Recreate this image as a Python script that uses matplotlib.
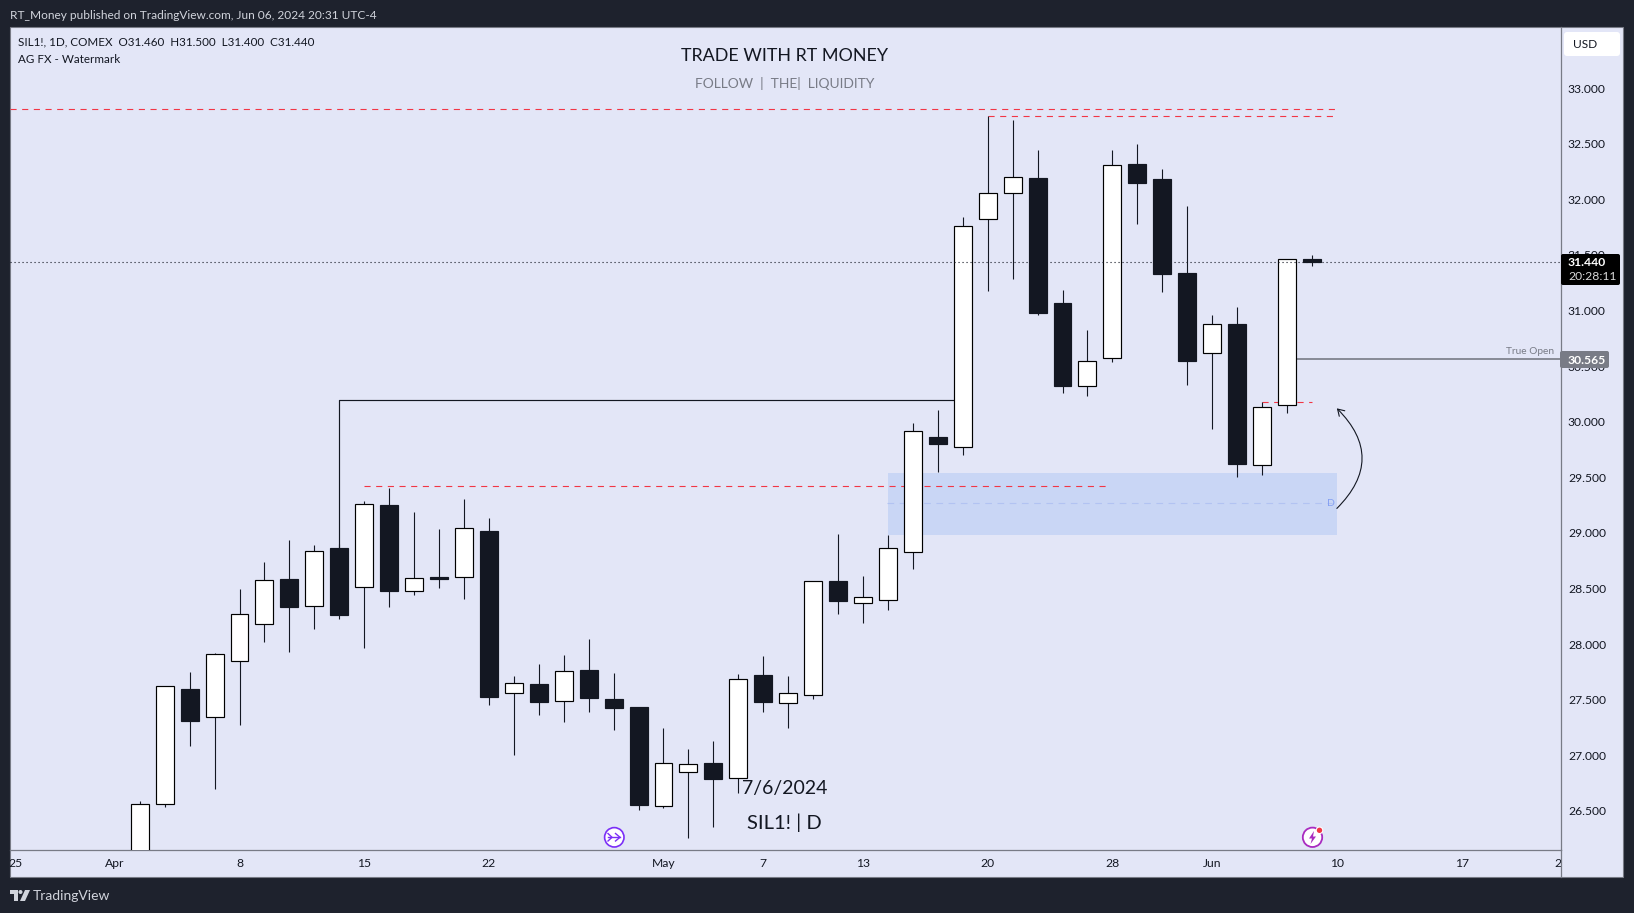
import numpy as np
import matplotlib
matplotlib.use("Agg")
from matplotlib import pyplot as plt
from matplotlib.patches import Rectangle, Circle, Polygon, FancyBboxPatch

W, H = 1634, 913

# Daily bars, Apr 2 -> Jun 7 2024 (Apr 1 = bar 0, first one is cut by the chart bottom)
opens = [25.80, 26.56, 27.60, 27.34, 27.85, 28.18, 28.585, 28.34, 28.864, 28.51, 29.25, 28.474,
         28.605, 28.60, 29.017, 27.557, 27.641, 27.485, 27.767, 27.506, 27.434, 26.541, 26.853,
         26.931, 26.793, 27.722, 27.473, 27.545, 28.567, 28.373, 28.40, 28.831, 29.862, 29.77,
         31.82, 32.054, 32.192, 31.068, 30.318, 30.57, 32.318, 32.183, 31.337, 30.615, 30.879,
         29.614, 30.147, 31.46]
highs = [26.589, 27.62, 27.749, 27.923, 28.495, 28.738, 28.936, 28.891, 28.90, 29.287, 29.404,
         29.188, 29.035, 29.305, 29.134, 27.713, 27.821, 27.902, 28.046, 27.74, 27.434, 27.245,
         27.054, 27.128, 27.731, 27.893, 27.713, 28.564, 28.99, 28.612, 28.981, 29.988, 30.105,
         31.841, 32.749, 32.713, 32.443, 31.184, 30.825, 32.443, 32.497, 32.273, 31.94, 30.96,
         31.032, 30.174, 31.46, 31.50]
lows = [25.70, 26.538, 27.083, 26.697, 27.272, 28.019, 27.929, 28.136, 28.229, 27.965, 28.337,
        28.441, 28.504, 28.405, 27.452, 27.003, 27.362, 27.299, 27.389, 27.227, 26.508, 26.526,
        26.256, 26.355, 26.664, 27.389, 27.245, 27.506, 28.271, 28.19, 28.307, 28.675, 29.548,
        29.701, 31.175, 31.283, 30.96, 30.258, 30.231, 30.537, 31.778, 31.166, 30.33, 29.934,
        29.503, 29.521, 30.078, 31.40]
closes = [26.559, 27.62, 27.311, 27.908, 28.268, 28.573, 28.337, 28.834, 28.265, 29.257, 28.48,
          28.591, 28.585, 29.041, 27.527, 27.647, 27.482, 27.755, 27.515, 27.425, 26.556, 26.928,
          26.919, 26.787, 27.683, 27.479, 27.557, 28.564, 28.387, 28.421, 28.861, 29.913, 29.799,
          31.757, 32.054, 32.198, 30.981, 30.321, 30.543, 32.306, 32.147, 31.331, 30.549, 30.876,
          29.62, 30.129, 31.46, 31.44]

time_ticks = [-4, 0, 5, 10, 15, 22, 26, 30, 35, 40, 44, 49, 54, 58]
time_labels = ["25", "Apr", "8", "15", "22", "May", "7", "13", "20", "28", "Jun", "10", "17", "24"]
price_ticks = [26.5, 27.0, 27.5, 28.0, 28.5, 29.0, 29.5, 30.0, 30.5, 31.0, 31.5, 32.0, 32.5, 33.0]

last_price = 31.44
true_open = 30.565
zone_top, zone_mid, zone_bottom = 29.54, 29.266, 28.98
liq_high_1, liq_high_2, liq_mid, liq_low = 32.812, 32.746, 29.419, 30.174
break_level = 30.192

DARK = "#1e222d"
PANEL = "#e3e6f7"
INK = "#131722"
GREY = "#787b86"
RED = "#f23645"

plt.rcParams["font.family"] = ["Lato", "DejaVu Sans"]


def ax_rect(left, top, right, bottom):
	return [left / W, 1 - bottom / H, (right - left) / W, (bottom - top) / H]


fig = plt.figure(figsize=(W / 100, H / 100), dpi=100, facecolor=DARK)

# Back layer: light panel and its frame.
back = fig.add_axes([0, 0, 1, 1], zorder=0)
back.set_xlim(0, W)
back.set_ylim(H, 0)
back.axis("off")
back.add_patch(Rectangle((10, 27), 1613, 850, facecolor=PANEL, edgecolor=GREY, linewidth=0.8))

# Main chart, in bar number / price.
ax = fig.add_axes(ax_rect(10, 27, 1561, 850), zorder=1)
ax.patch.set_visible(False)
x_left = (10 - 114.8) / 24.94
x_right = (1561 - 114.8) / 24.94
ax.set_xlim(x_left, x_right)
ax.set_ylim(31 - (850 - 310.5) / 111.2, 31 + (310.5 - 27) / 111.2)
for side in ["top", "left"]:
	ax.spines[side].set_visible(False)
for side in ["right", "bottom"]:
	ax.spines[side].set_color(GREY)
	ax.spines[side].set_linewidth(0.9)
ax.yaxis.tick_right()
ax.set_yticks(price_ticks)
ax.set_yticklabels(["%.3f" % p for p in price_ticks], fontsize=8.7, color=INK)
ax.tick_params(axis="y", length=0, pad=5)
ax.set_xticks([])

bars = np.arange(1, len(opens) + 1)
o = np.array(opens)
c = np.array(closes)
up = c > o

# Blue zone first, everything else sits on it.
ax.add_patch(Rectangle((31, zone_bottom), 18, zone_top - zone_bottom, facecolor="#c9d6f5",
                       edgecolor="none", zorder=1))
ax.plot([30.95, 48.8], [zone_mid, zone_mid], color="#b2c3f2", lw=0.8, dashes=(6, 5), zorder=1.5)
ax.text(48.75, zone_mid, "D", color="#85a0f2", fontsize=7.5, ha="center", va="center", zorder=1.5)

red_dash = dict(color=RED, lw=0.8, dashes=(5.5, 5), zorder=2)
ax.plot([x_left, 48.95], [liq_high_1, liq_high_1], **red_dash)
ax.plot([35, 48.95], [liq_high_2, liq_high_2], **red_dash)
ax.plot([10, 39.75], [liq_mid, liq_mid], **red_dash)
ax.plot([46, 48], [liq_low, liq_low], **red_dash)

# Break of structure line from Apr 12 to May 17
ax.plot([9, 9, 34], [o[8], break_level, break_level], color=INK, lw=0.85, zorder=2.5)

ax.vlines(bars, lows, highs, color=INK, lw=0.8, zorder=3)
body_bottom = np.minimum(o, c)
body_height = np.abs(c - o)
ax.bar(bars[up], body_height[up], bottom=body_bottom[up], width=0.72, facecolor="white",
       edgecolor="black", linewidth=0.85, zorder=4)
ax.bar(bars[~up], body_height[~up], bottom=body_bottom[~up], width=0.72, facecolor=INK,
       edgecolor=INK, linewidth=0.85, zorder=4)

ax.plot([x_left, x_right], [last_price, last_price], color=INK, lw=0.8, dashes=(1, 2.6), zorder=5)
ax.plot([47.3, x_right], [true_open, true_open], color=GREY, lw=1.2, zorder=3)
ax.text(x_right - 0.28, true_open + 0.063, "True Open", color=GREY, fontsize=7.3, ha="right", va="center")

ax.annotate("", xy=(49.0, 30.12), xytext=(49.0, 29.22),
            arrowprops=dict(arrowstyle="->,head_length=0.45,head_width=0.28", color=INK, lw=0.8,
                            connectionstyle="arc3,rad=0.5", shrinkA=0, shrinkB=0), zorder=6)

ax.text(26.85, 26.697, "7/6/2024", fontsize=14, color=INK, ha="center", va="center", zorder=6)
ax.text(26.85, 26.39, "SIL1! | D", fontsize=14.5, color=INK, ha="center", va="center", zorder=6)

# Time scale gets its own axes so the end labels are cut at the edges.
time_ax = fig.add_axes(ax_rect(10, 850, 1561, 877), zorder=1)
time_ax.patch.set_visible(False)
time_ax.axis("off")
time_ax.set_xlim(x_left, x_right)
time_ax.set_ylim(0, 1)
for pos, lab in zip(time_ticks, time_labels):
	time_ax.text(pos, 0.5, lab, fontsize=8.7, color=INK, ha="center", va="center", clip_on=True)

# Top layer in pixels: labels on the price scale, header, icons.
top = fig.add_axes([0, 0, 1, 1], zorder=2)
top.patch.set_visible(False)
top.set_xlim(0, W)
top.set_ylim(H, 0)
top.axis("off")
top.plot([1561, 1561], [850, 877], color=GREY, lw=0.9)

top.add_patch(FancyBboxPatch((1562, 255), 57, 29, boxstyle="round,pad=1,rounding_size=2",
                             facecolor="black", edgecolor="none"))
top.text(1568, 262, "31.440", color="white", fontsize=8.7, fontweight="bold", va="center")
top.text(1568, 277, "20:28:11", color="#d8d8d8", fontsize=8.7, va="center")
top.add_patch(FancyBboxPatch((1561, 352), 47, 15, boxstyle="round,pad=1,rounding_size=2",
                             facecolor=GREY, edgecolor="none"))
top.text(1568, 360, "30.565", color="white", fontsize=8.7, fontweight="bold", va="center")

top.add_patch(FancyBboxPatch((1565, 33), 54, 22, boxstyle="round,pad=1,rounding_size=3",
                             facecolor="white", edgecolor="none"))
top.text(1573, 45, "USD", color=INK, fontsize=8.6, va="center")

top.text(10, 15.5, "RT_Money published on TradingView.com, Jun 06, 2024 20:31 UTC-4",
         color="#d1d4dc", fontsize=8.6, va="center")
top.text(18, 42, "SIL1!, 1D, COMEX  O31.460  H31.500  L31.400  C31.440", color=INK, fontsize=8.35, va="center")
top.text(18, 59.5, "AG FX - Watermark", color=INK, fontsize=8.35, va="center")
top.text(785, 56, "TRADE WITH RT MONEY", color=INK, fontsize=12.9, ha="center", va="center")
top.text(785, 83, "FOLLOW  |  THE|  LIQUIDITY", color=GREY, fontsize=10, ha="center", va="center")

# Purple "replay" icon
top.add_patch(Circle((614.3, 837.3), 9.7, facecolor="white", edgecolor="#7b2ff7", linewidth=1.2))
top.plot([608, 620], [837.3, 837.3], color="#7b2ff7", lw=1)
top.plot([615.5, 620, 615.5], [833.5, 837.3, 841], color="#7b2ff7", lw=1)
top.plot([608, 612, 608], [833.5, 837.3, 841], color="#7b2ff7", lw=1)

# Lightning icon with red dot
top.add_patch(Circle((1312.5, 837.3), 9.7, facecolor="white", edgecolor="#a92cc0", linewidth=1.3))
top.add_patch(Polygon([(1314, 831), (1309, 838.5), (1312, 838.5), (1310.5, 844), (1316, 836.5),
                       (1313, 836.5)], facecolor="#a92cc0", edgecolor="none"))
top.add_patch(Circle((1319.5, 830.3), 3.8, facecolor="white", edgecolor="none"))
top.add_patch(Circle((1319.5, 830.3), 2.7, facecolor=RED, edgecolor="none"))

# TradingView logo
logo = "#d1d4dc"
top.add_patch(Polygon([(10, 890), (18, 890), (18, 901), (14, 901), (14, 894), (10, 894)],
                      facecolor=logo, edgecolor="none"))
top.add_patch(Circle((20.5, 892), 2, facecolor=logo, edgecolor="none"))
top.add_patch(Polygon([(25, 890), (30, 890), (25, 901), (20, 901)], facecolor=logo, edgecolor="none"))
top.text(33, 895.5, "TradingView", color=logo, fontsize=10, va="center")

fig.savefig("out.png", dpi=100, facecolor=DARK)
